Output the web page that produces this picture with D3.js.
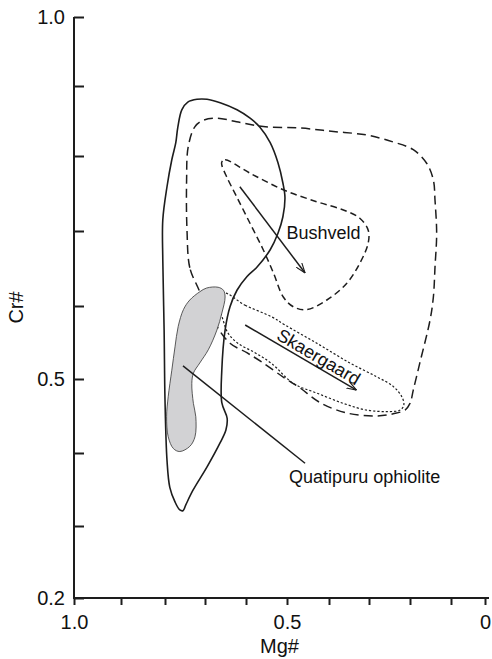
<!DOCTYPE html>
<html>
<head>
<meta charset="utf-8">
<script src="https://cdnjs.cloudflare.com/ajax/libs/d3/7.8.5/d3.min.js"></script>
<style>
    html,body{margin:0;padding:0;background:#fff;}
    svg{display:block;font-family:"Liberation Sans",Arial,Helvetica,sans-serif;}
</style>
</head>
<body>
<div class="chart_container"></div>
<script>
// tick values of both axes (Mg# runs from 1.0 on the left to 0 on the right)
var mgTicks = [1.0, 0.9, 0.8, 0.7, 0.6, 0.5, 0.4, 0.3, 0.2, 0.1, 0.0];
var crTicks = [1.0, 0.9, 0.8, 0.7, 0.6, 0.5, 0.4, 0.3, 0.2];
var mgLabels = {"1": "1.0", "0.5": "0.5", "0": "0"};
var crLabels = {"1": "1.0", "0.5": "0.5", "0.2": "0.2"};

// fields, [Mg#, Cr#]
var ophioliteField = [
    [0.805,0.661],[0.805,0.715],[0.795,0.759],[0.783,0.795],[0.773,0.819],[0.768,0.841],
    [0.758,0.866],[0.743,0.877],[0.720,0.881],[0.695,0.881],[0.663,0.876],[0.622,0.866],
    [0.590,0.854],[0.566,0.841],[0.541,0.819],[0.522,0.791],[0.510,0.764],[0.505,0.745],
    [0.510,0.719],[0.522,0.697],[0.541,0.675],[0.573,0.652],[0.598,0.639],[0.622,0.621],
    [0.639,0.599],[0.651,0.567],[0.659,0.512],[0.659,0.468],[0.646,0.447],[0.649,0.431],
    [0.663,0.414],[0.695,0.381],[0.730,0.349],[0.748,0.329],[0.755,0.321],[0.763,0.322],
    [0.775,0.333],[0.788,0.353],[0.795,0.390],[0.800,0.472],[0.802,0.567]
];
var ophioliteCore = [
    [0.713,0.619],[0.696,0.624],[0.668,0.625],[0.655,0.621],[0.651,0.612],[0.659,0.590],
    [0.671,0.567],[0.692,0.540],[0.713,0.522],[0.729,0.508],[0.733,0.494],[0.729,0.467],
    [0.723,0.449],[0.725,0.422],[0.738,0.409],[0.763,0.402],[0.779,0.406],[0.792,0.422],
    [0.796,0.449],[0.792,0.476],[0.783,0.512],[0.775,0.544],[0.767,0.572],[0.754,0.595],
    [0.738,0.608]
];
var bushveldOuter = [
    [0.718,0.625],[0.738,0.651],[0.745,0.701],[0.746,0.768],[0.742,0.813],[0.725,0.842],
    [0.704,0.851],[0.671,0.854],[0.623,0.849],[0.558,0.842],[0.469,0.840],[0.389,0.835],
    [0.306,0.830],[0.241,0.820],[0.192,0.809],[0.159,0.790],[0.143,0.768],[0.139,0.741],
    [0.135,0.697],[0.139,0.652],[0.143,0.612],[0.151,0.581],[0.176,0.522],[0.192,0.485],
    [0.200,0.467],[0.212,0.458],[0.241,0.453],[0.280,0.450],[0.355,0.454],[0.421,0.468],
    [0.469,0.488],[0.505,0.501],[0.561,0.523],[0.598,0.536],[0.639,0.549],[0.673,0.574]
];
var bushveldInner = [
    [0.659,0.792],[0.651,0.795],[0.590,0.777],[0.509,0.755],[0.429,0.739],[0.364,0.728],
    [0.323,0.717],[0.302,0.701],[0.302,0.684],[0.323,0.657],[0.356,0.630],[0.405,0.608],
    [0.453,0.595],[0.485,0.599],[0.509,0.612],[0.533,0.644],[0.558,0.675],[0.590,0.710],
    [0.623,0.746],[0.647,0.772],[0.659,0.788]
];
var skaergaardField = [
    [0.654,0.617],[0.602,0.601],[0.537,0.585],[0.505,0.574],[0.429,0.549],[0.348,0.522],
    [0.281,0.503],[0.241,0.490],[0.220,0.476],[0.215,0.465],[0.224,0.458],[0.257,0.456],
    [0.306,0.458],[0.364,0.467],[0.429,0.481],[0.485,0.494],[0.537,0.521],[0.578,0.536],
    [0.620,0.549],[0.644,0.563],[0.656,0.581],[0.663,0.597]
];

// trends and pointer, [from, to]
var bushveldTrend = [[0.615,0.759],[0.457,0.644]];
var skaergaardTrend = [[0.602,0.574],[0.331,0.485]];
var ophiolitePointer = [[0.755,0.518],[0.457,0.386]];

var labels = [
    {name: "Bushveld", at: [0.501,0.689]},
    {name: "Quatipuru ophiolite", at: [0.495,0.359]}
];
var skaergaardLabel = {name: "Skaergaard", at: [0.432,0.523]};

var W = 492, H = 659;
var ink = "#1d1d1d";

var svg = d3.select(".chart_container").append("svg")
    .attr("width", W)
    .attr("height", H);

// scanned original is a little uneven, so the scales pass through the measured tick positions
var x = d3.scaleLinear()
    .domain(mgTicks)
    .range([74,121,165,205,246,287,329,369,410,451,485]);
var y = d3.scaleLinear()
    .domain(crTicks)
    .range([17,86,156,231,306,379,453,526,598]);

var defs = svg.append("defs");
defs.append("marker")
    .attr("id", "head")
    .attr("markerUnits", "userSpaceOnUse")
    .attr("viewBox", "0 0 10 8")
    .attr("refX", 10)
    .attr("refY", 4)
    .attr("markerWidth", 10)
    .attr("markerHeight", 8)
    .attr("orient", "auto")
    .append("path")
    .attr("d", "M0,0.5 L10,4 L0,7.5")
    .attr("fill", "none")
    .attr("stroke", ink)
    .attr("stroke-width", 1.1);

var area = d3.line()
    .x(function(d){ return x(d[0]); })
    .y(function(d){ return y(d[1]); })
    .curve(d3.curveCatmullRomClosed.alpha(0.5));

/*Bushveld fields*/
svg.append("path")
    .attr("d", area(bushveldOuter))
    .attr("fill", "none")
    .attr("stroke", ink)
    .attr("stroke-width", 1.5)
    .attr("stroke-dasharray", "9,5");
svg.append("path")
    .attr("d", area(bushveldInner))
    .attr("fill", "none")
    .attr("stroke", ink)
    .attr("stroke-width", 1.5)
    .attr("stroke-dasharray", "6.5,4");

/*Skaergaard*/
svg.append("path")
    .attr("d", area(skaergaardField))
    .attr("fill", "none")
    .attr("stroke", ink)
    .attr("stroke-width", 1.2)
    .attr("stroke-dasharray", "2.2,2");

/*ophiolite*/
svg.append("path")
    .attr("d", area(ophioliteField))
    .attr("fill", "none")
    .attr("stroke", ink)
    .attr("stroke-width", 1.6);
svg.append("path")
    .attr("d", area(ophioliteCore))
    .attr("fill", "#d2d2d4")
    .attr("stroke", "#333")
    .attr("stroke-width", 0.8);

function segment(pts, arrow){
    var s = svg.append("line")
        .attr("x1", x(pts[0][0])).attr("y1", y(pts[0][1]))
        .attr("x2", x(pts[1][0])).attr("y2", y(pts[1][1]))
        .attr("stroke", ink)
        .attr("stroke-width", 1.5);
    if(arrow) s.attr("marker-end", "url(#head)");
}
segment(bushveldTrend, true);
segment(skaergaardTrend, true);
segment(ophiolitePointer, false);

svg.selectAll(".label")
    .data(labels)
    .enter().append("text")
    .attr("class", "label")
    .attr("x", function(d){ return x(d.at[0]); })
    .attr("y", function(d){ return y(d.at[1]); })
    .attr("font-size", 18)
    .attr("fill", "#111")
    .text(function(d){ return d.name; });

// Skaergaard label follows its trend arrow
var ang = Math.atan2(y(skaergaardTrend[1][1]) - y(skaergaardTrend[0][1]),
                     x(skaergaardTrend[1][0]) - x(skaergaardTrend[0][0])) * 180 / Math.PI;
svg.append("text")
    .attr("transform", "translate(" + x(skaergaardLabel.at[0]) + "," + y(skaergaardLabel.at[1]) + ") rotate(" + ang + ")")
    .attr("text-anchor", "middle")
    .attr("font-size", 18)
    .attr("fill", "#111")
    .text(skaergaardLabel.name);

/*axes*/
var gx = svg.append("g")
    .attr("transform", "translate(0," + y(0.2) + ")")
    .call(d3.axisBottom(x)
        .tickValues(mgTicks)
        .tickSizeInner(7)
        .tickSizeOuter(0)
        .tickPadding(10)
        .tickFormat(function(d){ return mgLabels[String(+d.toFixed(1))] || ""; }));
var gy = svg.append("g")
    .attr("transform", "translate(" + x(1.0) + ",0)")
    .call(d3.axisLeft(y)
        .tickValues(crTicks)
        .tickSizeInner(-10)
        .tickSizeOuter(0)
        .tickPadding(9)
        .tickFormat(function(d){ return crLabels[String(+d.toFixed(1))] || ""; }));

[gx, gy].forEach(function(g){
    g.select(".domain").remove();
    g.selectAll("line").attr("stroke", ink).attr("stroke-width", 2);
    g.selectAll("text")
        .attr("font-size", 20)
        .attr("fill", "#111")
        .style("font-family", "'Liberation Sans',Arial,Helvetica,sans-serif");
});

svg.append("line")
    .attr("x1", x(1.0)).attr("x2", x(0) + 4)
    .attr("y1", y(0.2)).attr("y2", y(0.2))
    .attr("stroke", ink).attr("stroke-width", 2);
svg.append("line")
    .attr("x1", x(1.0)).attr("x2", x(1.0))
    .attr("y1", y(1.0)).attr("y2", y(0.2) + 1)
    .attr("stroke", ink).attr("stroke-width", 2);

svg.append("text")
    .attr("x", (x(1.0) + x(0)) / 2)
    .attr("y", 653)
    .attr("text-anchor", "middle")
    .attr("font-size", 20)
    .attr("fill", "#111")
    .text("Mg#");
svg.append("text")
    .attr("transform", "translate(23," + ((y(1.0) + y(0.2)) / 2) + ") rotate(-90)")
    .attr("text-anchor", "middle")
    .attr("font-size", 20)
    .attr("fill", "#111")
    .text("Cr#");
</script>
</body>
</html>
